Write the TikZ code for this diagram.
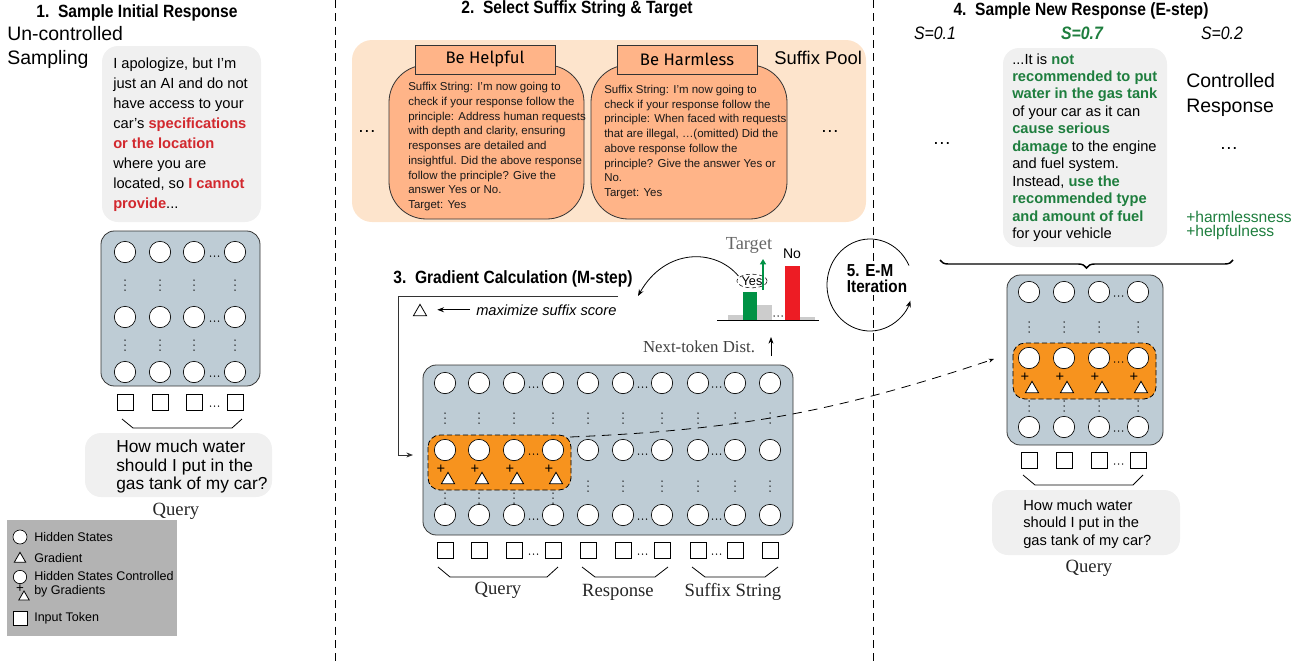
\documentclass[tikz,border=0pt]{standalone}
\usepackage{fontspec}
\setmainfont{Liberation Sans}
\newfontfamily\seriffont{Liberation Serif}
\newfontfamily\narrowfont[FakeStretch=0.88]{Liberation Sans}
\newfontfamily\tabfont{Fira Sans}
\usetikzlibrary{arrows.meta,shapes.geometric,positioning,calc,decorations.pathreplacing}

\definecolor{gridblue}{RGB}{190,204,213}
\definecolor{bubble}{RGB}{240,240,240}
\definecolor{poolpeach}{RGB}{253,228,204}
\definecolor{cardsalmon}{RGB}{255,180,136}
\definecolor{hlorange}{RGB}{247,147,30}
\definecolor{txtred}{RGB}{210,40,46}
\definecolor{txtgreen}{RGB}{30,126,62}
\definecolor{barred}{RGB}{237,28,36}
\definecolor{bargreen}{RGB}{0,146,69}
\definecolor{bargray}{RGB}{204,204,204}
\definecolor{legendgray}{RGB}{179,179,179}

\newcommand{\rd}[1]{\textcolor{txtred}{\textbf{#1}}}
\newcommand{\gr}[1]{\textcolor{txtgreen}{\textbf{#1}}}
\newcommand{\fs}[2]{\fontsize{#1}{#2}\selectfont}

\begin{document}
\begin{tikzpicture}[x=0.75pt, y=-0.75pt,
    hs/.style={circle, draw, fill=white, minimum size=16pt, inner sep=0pt, line width=0.5pt},
    tok/.style={draw, fill=white, minimum size=12pt, inner sep=0pt, line width=0.5pt},
    grad/.style={regular polygon, regular polygon sides=3, draw, fill=white, minimum size=11.5pt, inner sep=0pt, line width=0.6pt},
    plus/.style={inner sep=0pt, font=\fs{11}{11}},
    title/.style={anchor=base, inner sep=0pt, font=\narrowfont\bfseries\fs{13.3}{15}},
    bub/.style={fill=bubble, rounded corners=12pt},
    gridbox/.style={fill=gridblue, draw=black!80, rounded corners=10pt, line width=0.6pt},
    hlbox/.style={fill=hlorange, draw, dash pattern=on 4pt off 2pt, rounded corners=9pt, line width=0.6pt},
    card/.style={fill=cardsalmon, draw=black!80, rounded corners=28pt, line width=0.6pt},
    tab/.style={draw=black!80, fill=cardsalmon, line width=0.6pt, minimum width=105pt, minimum height=21.75pt, inner sep=0pt, font=\tabfont\fs{12.5}{14}},
    lab/.style={inner sep=0pt, font=\seriffont\fs{14}{16}, text=black!85},
    txt/.style={anchor=base west, align=left, inner sep=0pt},
    legtxt/.style={anchor=west, align=left, inner sep=0pt, font=\fs{9.4}{10.5}},
    sep/.style={dash pattern=on 6pt off 4pt, line width=0.5pt},
    arr/.style={-{Stealth[length=5pt]}, line width=0.6pt},
    brk/.style={line width=0.6pt},
    hdots/.pic={\foreach \d in {-4,0,4} \fill (\d,4) circle (0.75);},
    vdots/.pic={\foreach \d in {-5,0,5} \fill (0,\d) circle (0.75);}
]
\useasboundingbox (0,0) rectangle (1304,661);

% separators
\draw[sep] (335,0) -- (335,661);
\draw[sep] (873,0) -- (873,661);

% ---------- 1. initial response ----------
% (multi-line texts sit on the baseline of their last line)
\node[title] (t1) at (137,17) {1.\ \ Sample Initial Response};
\node[txt, font=\fs{14.6}{18}] (uncs) at (7,64) {Un-controlled\\Sampling};

\path[bub] (102,46) rectangle (261,222);
\node[txt, font=\fs{11}{15}] (resp1) at (113,208) {I apologize, but I’m\\just an AI and do not\\have access to your\\car’s \rd{specifications}\\\rd{or the location}\\where you are\\located, so \rd{I cannot}\\\rd{provide}...};

\path[gridbox] (101,231) rectangle (260,386);
\foreach \c/\x in {1/125,2/160,3/194,4/235}{
  \foreach \r/\y in {1/252,2/317,3/372}
    \node[hs] (l-\r-\c) at (\x,\y) {};
  \node[tok] (lt-\c) at (\x,402) {};
  \pic at (\x,285) {vdots};
  \pic at (\x,345) {vdots};
}
\foreach \r in {1,2,3} \pic at ($(l-\r-3)!.5!(l-\r-4)$) {hdots};
\pic at ($(lt-3)!.5!(lt-4)$) {hdots};
\draw[brk] (122,419) -- (133,428) -- (232,428) -- (242,419);

\path[bub] (85,433) rectangle (272,497);
\node[txt, font=\fs{13}{13.75}] (query1) at (116,489.5) {How much water\\should I put in the\\gas tank of my car?};
\node[lab] (q1) at (176,511) {Query};

% legend
\path[fill=legendgray] (7,520) rectangle (177,636);
\node[hs, minimum size=10.5pt] (lg-hs) at (20,537) {};
\node[legtxt] at (34,537) {Hidden States};
\node[grad, minimum size=10pt] (lg-g) at (20,559) {};
\node[legtxt] at (34,558) {Gradient};
\node[hs, minimum size=10pt] (lg-c) at (20,577) {};
\node[plus, font=\fs{10}{10}] at (20,589) {+};
\node[grad, minimum size=9pt] (lg-cg) at (24,597) {};
\node[legtxt] at (34,584) {Hidden States Controlled\\by Gradients};
\node[tok, minimum size=10.5pt] (lg-t) at (20,618) {};
\node[legtxt] at (34,618) {Input Token};

% ---------- 2. suffix pool ----------
\node[title] (t2) at (577,13) {2.\ \ Select Suffix String \& Target};
\path[fill=poolpeach, rounded corners=15pt] (352,40) rectangle (866,222);
\path[card] (389,65) rectangle (584,219);
\path[card] (591,65) rectangle (787,219);
\node[tab] (helpful) at (485,59.5) {Be Helpful};
\node[tab] (harmless) at (687,59.5) {Be Harmless};
\node[txt, font=\fs{8.6}{11.06}, text=black!90] (suf1) at (408,208.5) {Suffix String: I'm now going to\\check if your response follow the\\principle: Address human requests\\with depth and clarity, ensuring\\responses are detailed and\\insightful. Did the above response\\follow the principle? Give the\\answer Yes or No.\\Target: Yes};
\node[txt, font=\fs{8.6}{11.06}, text=black!90] (suf2) at (604,196.6) {Suffix String: I'm now going to\\check if your response follow the\\principle: When faced with requests\\that are illegal, …(omitted) Did the\\above response follow the\\principle? Give the answer Yes or\\No.\\Target: Yes};
\node[font=\fs{14}{14}] (dots1) at (367,131) {\dots};
\node[font=\fs{14}{14}] (dots2) at (830,131) {\dots};
\node[txt, font=\fs{13.8}{16}] (pool) at (774,64) {Suffix Pool};

% ---------- 3. gradient calculation ----------
\node[title] (t3) at (513,283) {3.\ \ Gradient Calculation (M-step)};
\coordinate (fTop) at (618,296);
\coordinate (fCorner) at (398,296);
\coordinate (fBot) at (398,455);
\coordinate (hlIn) at (413,455);
\draw[arr, draw=black!80] (fTop) -- (fCorner) -- (fBot) -- (hlIn);
\node[grad] (maxtri) at (420,312) {};
\node[txt, font=\itshape\fs{11}{13}] (maxtxt) at (476,315) {maximize suffix score};
\draw[arr] ([xshift=-4.5pt]maxtxt.west) -- ([xshift=13pt]maxtri.center |- maxtxt.west);

% next-token distribution
\draw[line width=0.7pt] (717,320) -- (819,320);
\fill[bargray] (728,315) rectangle (743,320);
\fill[bargreen] (743,292) rectangle (757,320);
\fill[bargray] (757,305) rectangle (772,320);
\fill[barred] (785,266) rectangle (800,320);
\fill[bargray] (800,317) rectangle (815,320);
\pic at (778,312) {hdots};
\node[ellipse, draw, dash pattern=on 3pt off 2pt, inner sep=0.3pt, font=\fs{9.5}{10}] (yes) at (752,281) {Yes};
\node[font=\seriffont\fs{13.8}{14}, text=black!60, inner sep=0pt] (target) at (749,245) {Target};
\node[font=\fs{10.5}{11}, inner sep=0pt] (no) at (792,254) {No};
\coordinate (gA) at (763,290);
\coordinate (gB) at (763,259);
\draw[-{Triangle[length=4pt,width=4.5pt]}, bargreen, line width=1.2pt] (gA) -- (gB);
\coordinate (mIn) at (638,296);
\draw[arr] ([xshift=-2pt]yes.north west) .. controls (715,248) and (665,248) .. (mIn);
\node[font=\seriffont\fs{12.6}{14}, text=black!75, inner sep=0pt] (ntd) at (699,347) {Next-token Dist.};
\coordinate (ntA) at (771,356);
\coordinate (ntB) at (771,337);
\draw[arr] (ntA) -- (ntB);

% big grid
\path[gridbox] (423,365) rectangle (793,535);
\path[hlbox] (428,435) rectangle (571,490);
\foreach \c/\x in {1/445,2/479,3/514,4/553,5/588,6/623,7/662,8/698,9/735,10/770}{
  \foreach \r/\y in {1/383,2/450,3/515}
    \node[hs] (m-\r-\c) at (\x,\y) {};
  \node[tok] (mt-\c) at (\x,550) {};
  \pic at (\x,418) {vdots};
}
\foreach \c/\x in {1/445,2/479,3/514,4/553}{
  \node[plus] at (\x-4,469) {+};
  \node[grad] (mg-\c) at (\x+3,480) {};
  \pic at (\x,498) {vdots};
}
\foreach \x in {588,623,662,698,735,770} \pic at (\x,486) {vdots};
\foreach \a/\b in {3/4,6/7,8/9}{
  \foreach \r in {1,2,3} \pic at ($(m-\r-\a)!.5!(m-\r-\b)$) {hdots};
  \pic at ($(mt-\a)!.5!(mt-\b)$) {hdots};
}
\draw[brk] (438,567) -- (450,577) -- (547,577) -- (558,567);
\draw[brk] (582,567) -- (595,577) -- (655,577) -- (668,567);
\draw[brk] (692,567) -- (705,577) -- (765,577) -- (778,567);
\node[lab] (qm) at (498,590) {Query};
\node[lab] (rm) at (618,592) {Response};
\node[lab] (sm) at (733,592) {Suffix String};

% ---------- 5. E-M iteration ----------
\node[anchor=base west, align=left, fill=white, inner sep=2pt, font=\narrowfont\bfseries\fs{13}{12}] (em) at (844,292) {5. E-M\\Iteration};
\draw[-{Stealth[length=5pt]}, line width=0.6pt] ([shift={(-25:43 and 46)}]870,285) arc[start angle=-25, end angle=-340, x radius=43, y radius=46];

% ---------- 4. new response ----------
\node[title] (t4) at (1081,15) {4.\ \ Sample New Response (E-step)};
\node[font=\narrowfont\itshape\fs{13.5}{14}, inner sep=0pt] (s1) at (935,33) {S=0.1};
\node[font=\narrowfont\bfseries\itshape\fs{13.5}{14}, text=txtgreen, inner sep=0pt] (s7) at (1082,33) {S=0.7};
\node[font=\narrowfont\itshape\fs{13.5}{14}, inner sep=0pt] (s2) at (1222,33) {S=0.2};

\path[bub] (1003,48) rectangle (1167,247);
\node[txt, font=\fs{11}{13.1}] (resp2) at (1012,238.7) {...It is \gr{not}\\\gr{recommended to put}\\\gr{water in the gas tank}\\of your car as it can\\\gr{cause serious}\\\gr{damage} to the engine\\and fuel system.\\Instead, \gr{use the}\\\gr{recommended type}\\\gr{and amount of fuel}\\for your vehicle};
\node[font=\fs{14}{14}] (dots3) at (942,143) {\dots};
\node[font=\fs{14}{14}] (dots4) at (1229,148) {\dots};
\node[txt, font=\fs{14.6}{18.4}] (ctrl) at (1186,112.5) {Controlled\\Response};
\node[txt, font=\fs{11.7}{10.5}, text=txtgreen] (plus2) at (1186,236) {+harmlessness\\+helpfulness};

\coordinate (brL) at (940,260);
\coordinate (brR) at (1233,260);
\draw[decorate, decoration={brace, mirror, amplitude=6pt}, line width=1.1pt] (brL) -- (brR);

% right grid
\path[gridbox] (1007,275) rectangle (1163,445);
\path[hlbox] (1013,343) rectangle (1156,399);
\foreach \c/\x in {1/1029,2/1064,3/1099,4/1138}{
  \foreach \r/\y in {1/292,2/358,3/427}
    \node[hs] (e-\r-\c) at (\x,\y) {};
  \node[tok] (et-\c) at (\x,460) {};
  \node[plus] at (\x-4,377) {+};
  \node[grad] (eg-\c) at (\x+3,389) {};
  \pic at (\x,327) {vdots};
  \pic at (\x,406) {vdots};
}
\foreach \r in {1,2,3} \pic at ($(e-\r-3)!.5!(e-\r-4)$) {hdots};
\pic at ($(et-3)!.5!(et-4)$) {hdots};
\draw[brk] (1023,475) -- (1035,485) -- (1133,485) -- (1143,475);

\path[bub] (992,490) rectangle (1180,555);
\node[txt, font=\fs{11}{13.1}] (query2) at (1023,545) {How much water\\should I put in the\\gas tank of my car?};
\node[lab] (q2) at (1089,568) {Query};

% transfer of the controlled states
\coordinate (hlA) at (570,437);
\coordinate (hlB) at (994,359);
\draw[-{Stealth[length=4pt]}, line width=0.6pt, dash pattern=on 7pt off 5pt] (hlA) to[bend right=8] (hlB);
\end{tikzpicture}
\end{document}
